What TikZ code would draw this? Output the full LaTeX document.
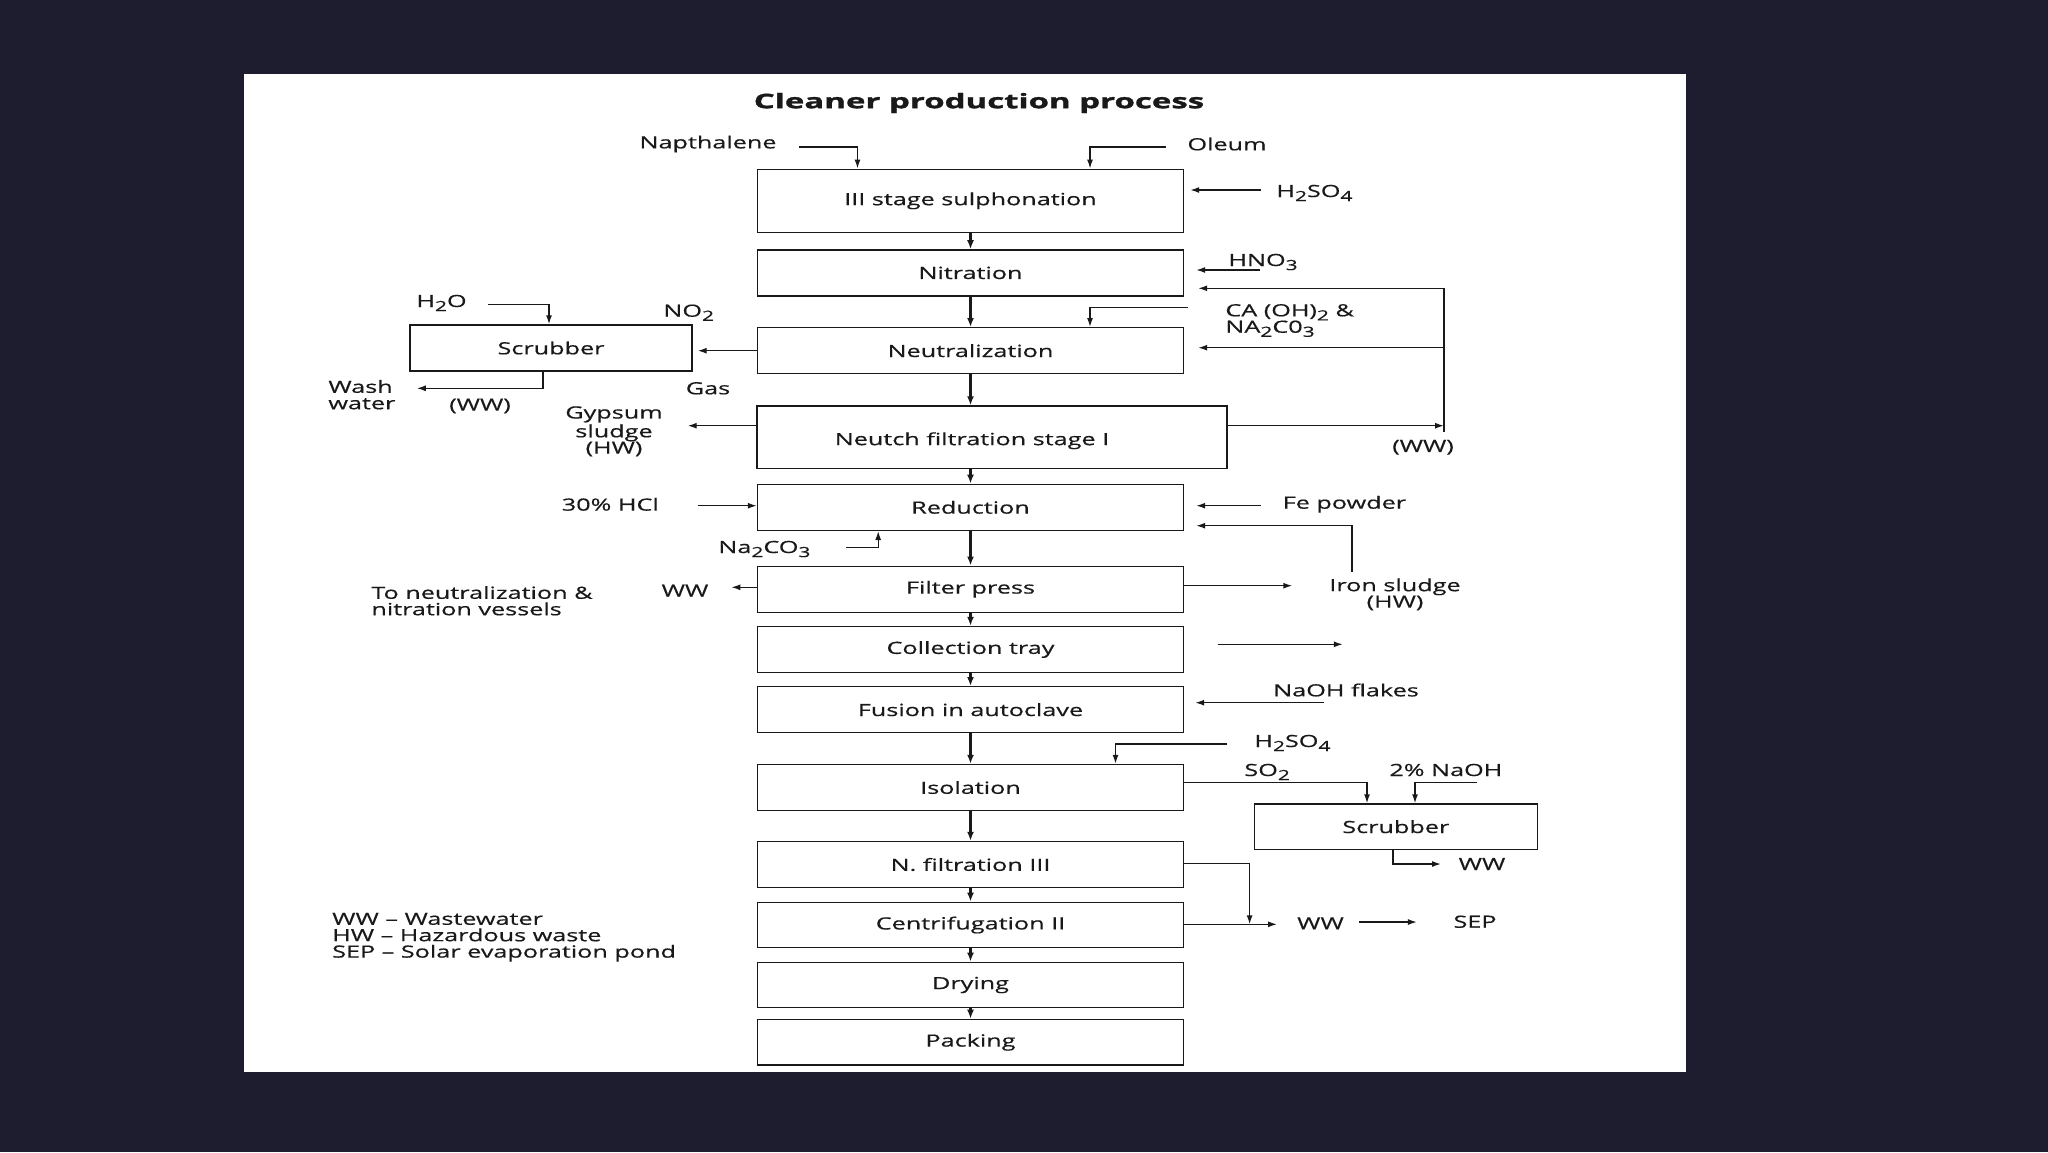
\documentclass[tikz,border=0pt]{standalone}
\usepackage{fontspec}
\setmainfont{Open Sans}[FakeStretch=1.5, FakeBold=0.5]
\newfontfamily\titlefont{Open Sans}[FakeStretch=1.65, BoldFeatures={FakeBold=1.5}]
\usetikzlibrary{arrows.meta,calc}
\definecolor{bgdark}{RGB}{30,29,48}
\definecolor{ink}{RGB}{25,25,25}
\newcommand{\chemsub}[1]{\raisebox{-0.45ex}{\fontsize{7}{7}\selectfont #1}}
\begin{document}
\begin{tikzpicture}[x=0.5pt,y=-0.5pt,
  every node/.style={font=\fontsize{8.4}{8.2}\selectfont, text=ink, inner sep=0pt},
  pbox/.style={draw=ink, line width=0.7pt, minimum width=213pt, minimum height=23pt},
  arr/.style={draw=ink, line width=0.7pt, -{Latex[length=4.5pt,width=3pt]}},
  marr/.style={draw=ink, line width=1.1pt, -{Latex[length=4.5pt,width=3.5pt]}},
  ln/.style={draw=ink, line width=0.7pt}
]
\fill[bgdark] (0,0) rectangle (2048,1152);
\useasboundingbox (0,0) rectangle (2048,1152);
\fill[white] (243.5,73.5) rectangle (1685.5,1071.5);

% title
\node[font=\fontsize{10}{11}\titlefont\bfseries] (title) at (979,103) {Cleaner production process};

% main column
\node[pbox, minimum height=31.5pt] (sulph) at (970.5,200.8) {III stage sulphonation};
\node[pbox] (nitr) at (970.5,272.9) {Nitration};
\node[pbox] (neut) at (970.5,350.7) {Neutralization};
\node[pbox, minimum width=235pt, minimum height=31.2pt] (neutch) at (992,437.2) {};
\node (neutchT) at (972,440.7) {Neutch filtration stage I};
\node[pbox] (red) at (970.5,507.3) {Reduction};
\node[pbox] (filt) at (970.5,589.2) {Filter press};
\node[pbox] (coll) at (970.5,649.5) {Collection tray};
\node[pbox] (fus) at (970.5,709.7) {Fusion in autoclave};
\node[pbox] (isol) at (970.5,787.5) {Isolation};
\node[pbox] (nfilt) at (970.5,864.5) {N. filtration III};
\node[pbox, minimum height=22.7pt] (centr) at (970.5,925) {Centrifugation II};
\node[pbox, minimum height=22.7pt] (dry) at (970.5,985) {Drying};
\node[pbox, minimum height=22.8pt] (pack) at (970.5,1042.2) {Packing};
\node[pbox, minimum width=141pt] (scrubA) at (551,348) {Scrubber};
\node[pbox, minimum width=141.5pt, minimum height=22.7pt] (scrubB) at (1395.8,826.7) {Scrubber};

% main arrows
\draw[marr] (sulph) -- (nitr);
\draw[marr] (nitr) -- (neut);
\draw[marr] (neut.south) -- (neut.south |- neutch.north);
\draw[marr] (red.north |- neutch.south) -- (red.north);
\draw[marr] (red) -- (filt);
\draw[marr] (filt) -- (coll);
\draw[marr] (coll) -- (fus);
\draw[marr] (fus) -- (isol);
\draw[marr] (isol) -- (nfilt);
\draw[marr] (nfilt) -- (centr);
\draw[marr] (centr) -- (dry);
\draw[marr] (dry) -- (pack);

% top inputs
\node (napth) at (708,144) {Napthalene};
\node (oleum) at (1227,144) {Oleum};
\coordinate (napA) at (799,147);
\coordinate (napB) at (857.5,147);
\draw[arr] (napA) -- (napB) -- (napB |- sulph.north);
\coordinate (oleA) at (1166,147);
\coordinate (oleB) at (1090,147);
\draw[arr] (oleA) -- (oleB) -- (oleB |- sulph.north);

\node[anchor=base west] (hsT) at (1276,197) {H\chemsub{2}SO\chemsub{4}};
\coordinate (hsA) at (1261,190);
\draw[arr, shorten >=3pt] (hsA) -- (hsA -| sulph.east);

\node[anchor=base west] (hnT) at (1228,266) {HNO\chemsub{3}};
\coordinate (hnA) at (1260,270);
\draw[arr, shorten >=6pt] (hnA) -- (hnA -| nitr.east);

% wastewater recycle loop
\coordinate (wwT) at (1444,288.3);
\coordinate (wwM) at (1444,347.7);
\coordinate (wwB) at (1444,425.7);
\draw[arr] (neutch.east |- wwB) -- (wwB);
\draw[ln, line width=1.1pt] ([yshift=-3pt]wwB) -- (wwT);
\draw[arr, shorten >=7pt] (wwT) -- (wwT -| nitr.east);
\draw[arr, shorten >=7pt] (wwM) -- (wwM -| neut.east);
\node (wwR) at (1423,447.3) {(WW)};

% Ca(OH)2
\node[anchor=base west, align=left] (caT) at (1225,332.7) {CA (OH)\chemsub{2} \&\\NA\chemsub{2}C0\chemsub{3}};
\coordinate (caA) at (1187.6,307.3);
\coordinate (caB) at (1090,307.3);
\draw[arr] (caA) -- (caB) -- (caB |- neut.north);

% scrubber left
\draw[arr, shorten >=2.5pt] (neut.west) -- (neut.west -| scrubA.east);
\node[anchor=base west] (h2oT) at (416,307) {H\chemsub{2}O};
\coordinate (h2oA) at (488,304.3);
\coordinate (h2oB) at (549,304.3);
\draw[arr] (h2oA) -- (h2oB) -- (h2oB |- scrubA.north);
\node[anchor=base west] (no2T) at (663,316.7) {NO\chemsub{2}};
\node (gasT) at (708,388.3) {Gas};
\coordinate (swA) at (543,388.3);
\coordinate (swB) at (416.8,388.3);
\draw[arr] (swA |- scrubA.south) -- (swA) -- (swB);
\node[anchor=west, align=left] (washT) at (328,394.7) {Wash\\water};
\node (wwL) at (480,406) {(WW)};

% gypsum
\node[align=center] (gypT) at (614,431.3) {Gypsum\\sludge\\(HW)};
\coordinate (gyA) at (687.7,425.7);
\draw[arr] (neutch.west |- gyA) -- (gyA);

% reduction inputs
\node (hclT) at (610.3,504.3) {30\% HCl};
\coordinate (hclA) at (697.8,505.7);
\draw[arr] (hclA) -- (hclA -| red.west);
\node (feT) at (1344.4,504.3) {Fe powder};
\coordinate (feA) at (1261,505.7);
\draw[arr, shorten >=6pt] (feA) -- (feA -| red.east);
\coordinate (isA) at (1352,571.7);
\coordinate (isB) at (1352,525.7);
\draw[arr, shorten >=6pt] (isA) -- (isB) -- (isB -| red.east);
\node[anchor=base west] (naT) at (718,553) {Na\chemsub{2}CO\chemsub{3}};
\coordinate (naA) at (846,547.3);
\coordinate (naB) at (878.2,547.3);
\draw[arr] (naA) -- (naB) -- (naB |- red.south);

% filter press
\coordinate (fwA) at (731.3,587.3);
\draw[arr] (filt.west |- fwA) -- (fwA);
\node (wwF) at (685,590.7) {WW};
\node[anchor=west, align=left] (toT) at (371,600.7) {To neutralization \&\\nitration vessels};
\coordinate (fiA) at (1292.3,585.7);
\draw[arr] (filt.east |- fiA) -- (fiA);
\node[align=center] (ironT) at (1395,594.3) {Iron sludge\\(HW)};

% collection tray
\coordinate (ctA) at (1217.5,644.3);
\coordinate (ctB) at (1342.8,644.3);
\draw[arr] (ctA) -- (ctB);

% fusion
\node (nfT) at (1346,690) {NaOH flakes};
\coordinate (nfA) at (1324,702.7);
\draw[arr, shorten >=5.5pt] (nfA) -- (nfA -| fus.east);

% isolation
\node[anchor=base west] (hs2T) at (1254,747) {H\chemsub{2}SO\chemsub{4}};
\coordinate (hs2A) at (1227,744);
\coordinate (hs2B) at (1115.5,744);
\draw[arr] (hs2A) -- (hs2B) -- (hs2B |- isol.north);
\node[anchor=base west] (so2T) at (1244,776) {SO\chemsub{2}};
\node[anchor=base west] (naohT) at (1389,776) {2\% NaOH};
\coordinate (soA) at (1367,782.7);
\draw[arr] (isol.east |- soA) -- (soA) -- (soA |- scrubB.north);
\coordinate (naohA) at (1476.5,782.7);
\coordinate (naohB) at (1415,782.7);
\draw[arr] (naohA) -- (naohB) -- (naohB |- scrubB.north);
\coordinate (sbA) at (1392.8,864);
\coordinate (sbB) at (1441,864);
\draw[arr] (sbA |- scrubB.south) -- (sbA) -- (sbB);
\node (wwS) at (1482,864) {WW};

% filtration / centrifugation
\coordinate (nfiA) at (1249.6,863.3);
\coordinate (nfiB) at (1249.6,924.3);
\draw[arr] (nfilt.east |- nfiA) -- (nfiA) -- (nfiB);
\coordinate (ceA) at (1277,924.3);
\draw[arr] (centr.east |- ceA) -- (ceA);
\node (wwC) at (1320.5,923.3) {WW};
\coordinate (wsA) at (1359.4,922);
\coordinate (wsB) at (1416.9,922);
\draw[arr] (wsA) -- (wsB);
\node (sepT) at (1475,921.7) {SEP};

% legend
\node[anchor=west, align=left] (legend) at (331.8,937.2) {WW -- Wastewater\\HW -- Hazardous waste\\SEP -- Solar evaporation pond};
\end{tikzpicture}
\end{document}
